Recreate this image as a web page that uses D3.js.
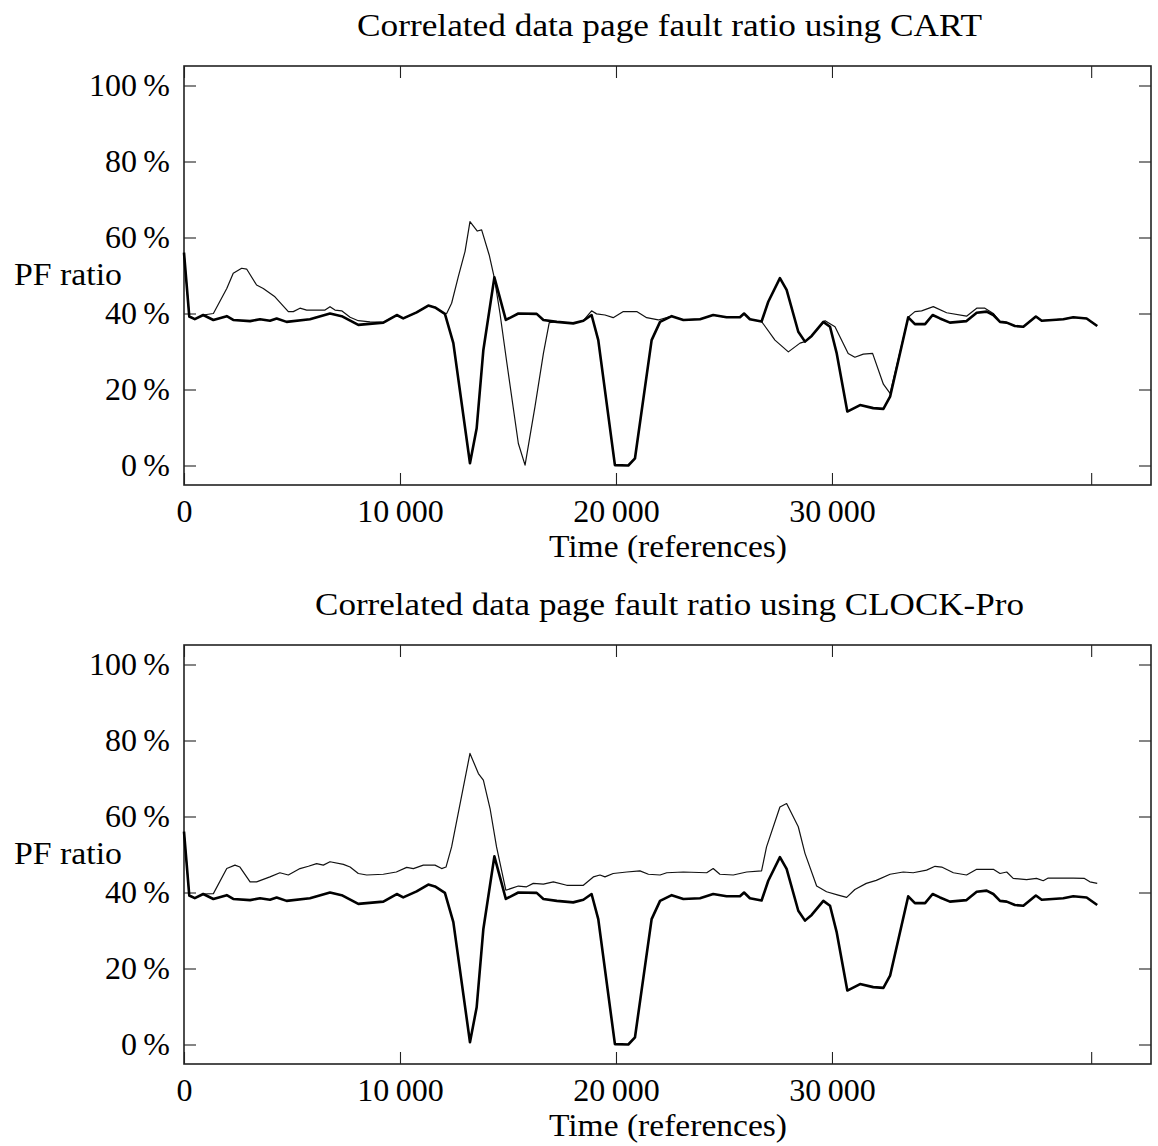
<!DOCTYPE html>
<html>
<head>
<meta charset="utf-8">
<script src="https://cdn.jsdelivr.net/npm/d3@7"></script>
<style>
  html, body { margin: 0; padding: 0; background: #fff; }
  svg text { font-family: "Liberation Serif", "DejaVu Serif", serif; fill: #000; }
</style>
</head>
<body>
<svg id="chart" width="1158" height="1146"></svg>
<script>
// ---- data (time in references, value in %) ----
const titles = ["Correlated data page fault ratio using CART",
                "Correlated data page fault ratio using CLOCK-Pro"];
const xLabel = "Time (references)";
const yLabel = "PF ratio";
const xTicks = [0, 10000, 20000, 30000, 42000];
const xTickLabels = ["0", "10\u2009000", "20\u2009000", "30\u2009000", ""];
const yTicks = [0, 20, 40, 60, 80, 100];
const yTickLabels = ["0\u2009%", "20\u2009%", "40\u2009%", "60\u2009%", "80\u2009%", "100\u2009%"];

// thick line (same in both panels)
const baseSeries = [
  [0,56],[245,39.2],[500,38.5],[890,39.6],[1360,38.3],[1980,39.3],[2280,38.3],[3060,38.0],
  [3520,38.5],[3980,38.1],[4290,38.7],[4750,37.8],[5830,38.5],[6760,40.0],[7300,39.3],
  [8070,37.0],[9230,37.6],[9850,39.6],[10150,38.7],[10770,40.3],[11310,42.1],[11620,41.6],
  [12080,39.9],[12470,32.2],[13240,0.6],[13550,9.8],[13860,30.4],[14370,49.5],[14900,38.3],
  [15480,40.0],[16330,39.9],[16640,38.3],[17260,37.8],[18020,37.4],[18490,38.1],[18870,39.6],
  [19180,33.0],[19950,0.1],[20570,0],[20880,1.9],[21650,33.0],[22040,37.8],[22580,39.3],
  [23120,38.3],[23890,38.5],[24500,39.6],[25120,39.0],[25740,39.0],[25930,40.0],[26200,38.5],
  [26740,37.9],[27050,43.1],[27590,49.3],[27900,46.2],[28440,35.2],[28750,32.6],[29060,34.1],
  [29600,37.8],[29910,36.5],[30220,29.5],[30710,14.2],[31300,15.9],[31910,15.1],[32380,14.9],
  [32690,18.1],[33530,39.0],[33840,37.2],[34310,37.2],[34660,39.6],[35000,38.7],[35460,37.6],
  [36230,38.0],[36700,40.2],[37160,40.5],[37470,39.6],[37780,37.8],[38090,37.6],[38470,36.7],
  [38860,36.5],[39440,39.2],[39710,38.1],[40710,38.5],[41170,39.0],[41790,38.7],[42280,36.7]
];

// thin line, top panel (CART)
const cartSeries = [
  [0,56],[245,39.2],[500,38.5],[890,39.6],[1360,40.0],[1980,46.6],[2280,50.6],[2670,51.9],
  [2900,51.7],[3360,47.5],[3670,46.6],[4210,44.4],[4830,40.5],[5060,40.5],[5370,41.4],
  [5680,40.9],[6530,40.9],[6760,41.8],[6990,40.9],[7300,40.7],[7690,39.0],[8070,38.1],
  [8610,37.8],[9230,37.7],[9850,39.6],[10150,38.7],[10770,40.3],[11310,42.1],[11620,41.6],
  [12080,39.9],[12160,40.0],[12390,42.7],[12700,49.7],[13010,56.3],[13240,64.2],[13580,61.7],
  [13780,62.0],[14130,55.4],[14370,49.3],[14630,40.0],[14940,27.3],[15480,5.8],[15790,0.1],
  [16250,15.5],[16640,29.5],[16910,37.6],[17260,37.8],[18020,37.4],[18490,38.1],[18870,40.7],
  [19100,39.9],[19490,39.6],[19870,38.9],[20340,40.5],[20960,40.5],[21420,38.9],[21960,38.3],
  [22580,39.3],[23120,38.3],[23890,38.5],[24500,39.6],[25120,39.0],[25740,39.0],[25930,40.0],
  [26200,38.5],[26740,37.9],[27360,33.0],[27980,29.9],[28520,32.2],[28750,32.6],[29060,34.1],
  [29680,38.1],[30140,36.5],[30750,29.5],[31060,28.5],[31450,29.3],[31880,29.5],[32380,21.4],
  [32690,19.0],[33530,39.0],[33840,40.5],[34150,40.7],[34690,41.8],[35310,40.2],[36230,39.3],
  [36700,41.4],[37080,41.4],[37470,40.0],[37780,37.8],[38090,37.6],[38470,36.7],[38860,36.5],
  [39440,39.2],[39710,38.1],[40710,38.5],[41170,39.0],[41790,38.7],[42280,36.7]
];

// thin line, bottom panel (CLOCK-Pro)
const clockProSeries = [
  [0,56],[245,39.2],[500,38.5],[890,39.6],[1360,39.7],[1980,46.3],[2360,47.2],[2590,46.7],
  [3060,42.8],[3360,42.8],[3980,44.1],[4440,45.2],[4830,44.6],[5370,46.3],[5760,46.9],
  [6140,47.6],[6450,47.2],[6760,48.1],[7380,47.4],[7690,46.7],[8070,45.0],[8460,44.6],
  [9230,44.8],[9830,45.4],[10310,46.6],[10620,46.3],[11080,47.2],[11620,47.2],[11930,46.3],
  [12130,46.7],[12390,52.0],[13240,76.6],[13630,71.3],[13860,69.6],[14170,62.1],[14470,52.0],
  [14900,40.6],[15480,41.7],[15860,41.5],[16170,42.4],[16640,42.2],[17100,42.8],[17720,41.9],
  [18490,41.9],[18950,44.1],[19260,44.6],[19490,44.1],[19870,45.0],[20500,45.4],[21110,45.7],
  [21500,44.8],[22040,44.6],[22350,45.2],[23120,45.4],[24200,45.2],[24500,46.3],[24810,44.8],
  [25430,44.6],[25740,45.0],[26050,45.4],[26740,45.7],[26970,52.0],[27590,62.5],[27900,63.4],
  [28440,57.3],[28750,50.3],[29290,41.7],[29750,40.2],[30290,39.3],[30680,38.7],[31060,40.8],
  [31590,42.4],[32050,43.2],[32690,44.8],[33300,45.4],[33760,45.2],[34380,45.9],[34770,46.9],
  [35080,46.7],[35620,45.2],[36230,44.6],[36700,46.1],[37470,46.1],[37780,45.0],[38090,45.4],
  [38390,43.7],[39010,43.4],[39470,43.7],[39780,43.1],[40010,43.8],[40560,43.8],[41170,43.8],
  [41690,43.7],[41940,42.8],[42280,42.4]
];

// ---- drawing ----
const svg = d3.select("#chart");
const FONT = 32;
const left = 184, right = 1151;
const x = d3.scaleLinear().domain([0, 44770]).range([left, right]);
const titleWidths = [625, 709];

function drawPanel(offsetY, title, titleWidth, thinSeries) {
  const top = 66 + offsetY, bottom = 485 + offsetY;
  const y = d3.scaleLinear().domain([0, 100]).range([465.5 + offsetY, 85.5 + offsetY]);
  const g = svg.append("g");

  // title
  g.append("text")
    .attr("x", (left + right) / 2 + 2).attr("y", 36 + offsetY)
    .attr("text-anchor", "middle").style("font-size", FONT + "px")
    .attr("textLength", titleWidth).attr("lengthAdjust", "spacingAndGlyphs")
    .text(title);

  // axes (ticks inward)
  const xb = d3.axisBottom(x).tickValues(xTicks)
    .tickFormat((d, i) => xTickLabels[i]).tickSize(-12).tickPadding(14);
  const xt = d3.axisTop(x).tickValues(xTicks).tickFormat("").tickSize(-12);
  const yl = d3.axisLeft(y).tickValues(yTicks)
    .tickFormat((d, i) => yTickLabels[i]).tickSize(-12).tickPadding(14);
  const yr = d3.axisRight(y).tickValues(yTicks).tickFormat("").tickSize(-12);

  const axes = [
    g.append("g").attr("transform", `translate(0,${bottom})`).call(xb),
    g.append("g").attr("transform", `translate(0,${top})`).call(xt),
    g.append("g").attr("transform", `translate(${left},0)`).call(yl),
    g.append("g").attr("transform", `translate(${right},0)`).call(yr)
  ];
  axes.forEach(a => {
    a.select(".domain").remove();
    a.selectAll(".tick line").attr("stroke", "#222").attr("stroke-width", 1.1);
    a.selectAll("text").style("font-size", FONT + "px")
      .style("font-family", '"Liberation Serif", "DejaVu Serif", serif').attr("fill", "#000");
  });

  // frame
  g.append("rect")
    .attr("x", left).attr("y", top)
    .attr("width", right - left).attr("height", bottom - top)
    .attr("fill", "none").attr("stroke", "#222").attr("stroke-width", 1.6);

  // labels
  g.append("text")
    .attr("x", 668).attr("y", 557 + offsetY)
    .attr("text-anchor", "middle").style("font-size", FONT + "px")
    .attr("textLength", 238).attr("lengthAdjust", "spacingAndGlyphs")
    .text(xLabel);
  g.append("text")
    .attr("x", 14).attr("y", 285 + offsetY)
    .style("font-size", FONT + "px")
    .attr("textLength", 108).attr("lengthAdjust", "spacingAndGlyphs")
    .text(yLabel);

  const line = d3.line().x(d => x(d[0])).y(d => y(d[1]));
  g.append("path").datum(thinSeries)
    .attr("d", line).attr("fill", "none")
    .attr("stroke", "#111").attr("stroke-width", 1.2).attr("stroke-linejoin", "round");
  g.append("path").datum(baseSeries)
    .attr("d", line).attr("fill", "none")
    .attr("stroke", "#000").attr("stroke-width", 2.6).attr("stroke-linejoin", "round");
}

drawPanel(0, titles[0], titleWidths[0], cartSeries);
drawPanel(579, titles[1], titleWidths[1], clockProSeries);
</script>
</body>
</html>
